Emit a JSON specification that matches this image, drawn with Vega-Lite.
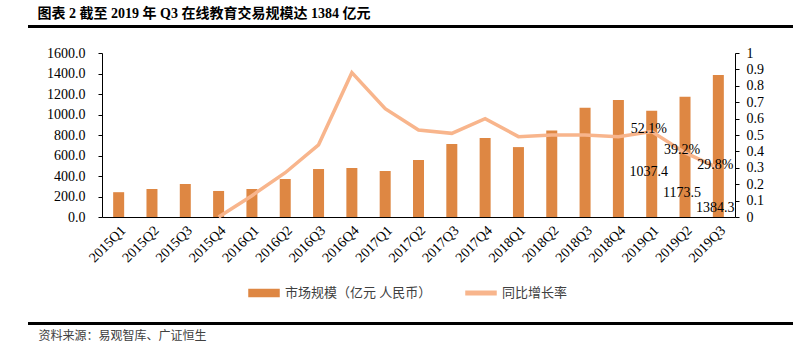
{
  "$schema": "https://vega.github.io/schema/vega-lite/v6.json",
  "background": "white",
  "padding": {"left": 27, "top": 6, "right": 0, "bottom": 0},
  "autosize": {"type": "pad"},
  "title": {"text": "图表 2 截至 2019 年 Q3 在线教育交易规模达 1384 亿元", "anchor": "start", "dx": 10, "fontSize": 14, "fontWeight": "bold", "color": "black", "offset": 4, "font": "Liberation Serif, Noto Sans CJK SC"},
  "columns": 1,
  "spacing": 18,
  "config": {
    "font": "Liberation Serif, Noto Sans CJK SC",
    "axis": {"domainColor": "black", "tickColor": "black", "labelColor": "black", "labelFontSize": 14, "grid": false, "labelFont": "Liberation Serif"}
  },
  "datasets": {
    "main": [
      {"quarter": "2015Q1", "market": 242, "growth": null},
      {"quarter": "2015Q2", "market": 273, "growth": null},
      {"quarter": "2015Q3", "market": 322, "growth": null},
      {"quarter": "2015Q4", "market": 254, "growth": 0},
      {"quarter": "2016Q1", "market": 273, "growth": 0.13},
      {"quarter": "2016Q2", "market": 371, "growth": 0.27},
      {"quarter": "2016Q3", "market": 468, "growth": 0.44},
      {"quarter": "2016Q4", "market": 478, "growth": 0.88},
      {"quarter": "2017Q1", "market": 449, "growth": 0.66},
      {"quarter": "2017Q2", "market": 556, "growth": 0.53},
      {"quarter": "2017Q3", "market": 712, "growth": 0.51},
      {"quarter": "2017Q4", "market": 771, "growth": 0.6},
      {"quarter": "2018Q1", "market": 682, "growth": 0.49},
      {"quarter": "2018Q2", "market": 843, "growth": 0.5},
      {"quarter": "2018Q3", "market": 1066, "growth": 0.5},
      {"quarter": "2018Q4", "market": 1141, "growth": 0.49},
      {"quarter": "2019Q1", "market": 1037.4, "growth": 0.521},
      {"quarter": "2019Q2", "market": 1173.5, "growth": 0.392},
      {"quarter": "2019Q3", "market": 1384.3, "growth": 0.298}
    ]
  },
  "resolve": {"scale": {"color": "independent"}, "legend": {"color": "independent"}},
  "concat": [
    {
      "width": 763,
      "height": 1,
      "view": {"stroke": "black", "strokeWidth": 2, "fill": "black"},
      "data": {"values": [{}]},
      "mark": {"type": "rule", "opacity": 0},
      "encoding": {}
    },
    {
      "spacing": 0,
      "resolve": {"scale": {"color": "independent"}, "legend": {"color": "independent"}},
      "hconcat": [
        {
          "width": 17,
          "height": 1,
          "view": {"stroke": null},
          "data": {"values": [{}]},
          "mark": {"type": "rule", "opacity": 0},
          "encoding": {}
        },
        {
          "width": 633,
          "height": 164,
          "view": {"stroke": null},
          "data": {"name": "main"},
          "resolve": {"scale": {"y": "independent"}},
          "encoding": {
            "x": {
              "field": "quarter", "type": "ordinal", "sort": null,
              "scale": {"paddingInner": 0, "paddingOuter": 0},
              "axis": {"title": null, "labelAngle": -45, "labelAlign": "right", "labelBaseline": "top", "ticks": false, "labelPadding": 6, "domainColor": "black"}
            }
          },
          "layer": [
            {
              "mark": {"type": "bar", "size": 11},
              "encoding": {
                "y": {
                  "field": "market", "type": "quantitative",
                  "scale": {"domain": [0, 1600]},
                  "axis": {"values": [0, 200, 400, 600, 800, 1000, 1200, 1400, 1600], "format": ".1f", "tickSize": 4, "labelPadding": 13, "title": null}
                },
                "color": {
                  "datum": "市场规模（亿元 人民币）",
                  "scale": {"domain": ["市场规模（亿元 人民币）", "同比增长率"], "range": ["#DE8743", "#F8B58C"]},
                  "legend": {
                    "orient": "none", "legendX": 146, "legendY": 224, "padding": 3,
                    "direction": "horizontal", "title": null,
                    "symbolSize": 576, "labelFontSize": 13, "labelColor": "#404040",
                    "labelFont": "Liberation Serif, Noto Sans CJK SC",
                    "columnPadding": 31, "labelOffset": 8,
                    "encode": {
                      "symbols": {
                        "update": {
                          "shape": {"signal": "datum.value === '同比增长率' ? 'M-1.25,-0.15H1.25V0.15H-1.25Z' : 'M-1.25,-0.29H1.25V0.29H-1.25Z'"},
                          "fill": {"signal": "datum.value === '同比增长率' ? '#F8B58C' : '#DE8743'"},
                          "stroke": {"value": "transparent"},
                          "opacity": {"value": 1}
                        }
                      }
                    }
                  }
                }
              }
            },
            {
              "encoding": {
                "y": {
                  "field": "growth", "type": "quantitative",
                  "scale": {"domain": [0, 1]},
                  "axis": {"orient": "right", "values": [0, 0.1, 0.2, 0.3, 0.4, 0.5, 0.6, 0.7, 0.8, 0.9, 1], "format": "~g", "tickSize": 4, "labelPadding": 7, "title": null}
                }
              },
              "layer": [
                {
                  "mark": {"type": "line", "strokeWidth": 3.5, "interpolate": "linear"},
                  "encoding": {"color": {"datum": "同比增长率"}}
                },
                {
                  "transform": [{"filter": {"field": "quarter", "oneOf": ["2019Q1", "2019Q2", "2019Q3"]}}],
                  "mark": {"type": "text", "fontSize": 14, "color": "black", "dx": -3, "dy": -3, "font": "Liberation Serif"},
                  "encoding": {"text": {"field": "growth", "type": "quantitative", "format": ".1%"}}
                },
                {
                  "transform": [{"filter": {"field": "quarter", "oneOf": ["2019Q1", "2019Q2", "2019Q3"]}}],
                  "mark": {"type": "text", "fontSize": 14, "color": "black", "dx": -3, "dy": 40, "font": "Liberation Serif"},
                  "encoding": {"text": {"field": "market", "type": "quantitative", "format": ".1f"}}
                }
              ]
            }
          ]
        }
      ]
    },
    {
      "width": 763,
      "height": 1,
      "view": {"stroke": "black", "strokeWidth": 2, "fill": "black"},
      "title": {"text": "资料来源：易观智库、广证恒生", "orient": "bottom", "anchor": "start", "dx": 10, "fontSize": 12, "fontWeight": "normal", "color": "#404040", "offset": 7, "font": "Liberation Serif, Noto Sans CJK SC"},
      "data": {"values": [{}]},
      "mark": {"type": "rule", "opacity": 0},
      "encoding": {}
    }
  ]
}
